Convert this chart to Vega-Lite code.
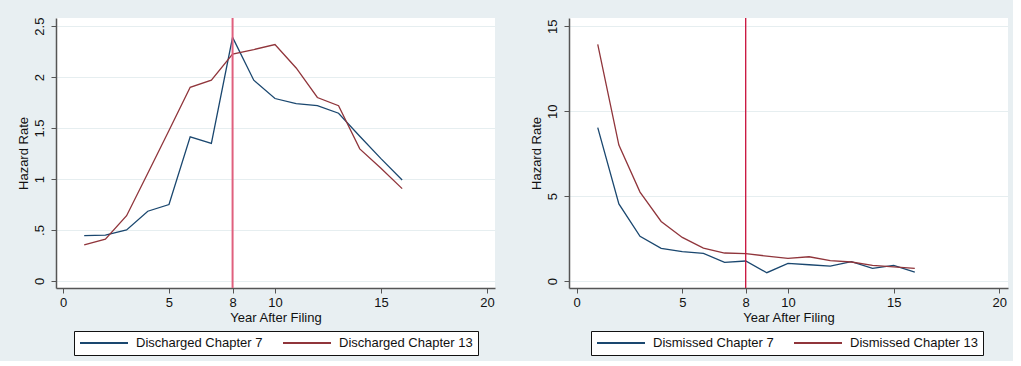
{
  "$schema": "https://vega.github.io/schema/vega-lite/v6.json",
  "background": "#e8eff2",
  "padding": {"left": 16, "top": 17, "right": 5, "bottom": 5},
  "spacing": 35,
  "config": {
    "view": {"fill": "white", "stroke": null},
    "font": "Liberation Sans",
    "axis": {
      "labelFont": "Liberation Sans",
      "titleFont": "Liberation Sans",
      "labelFontSize": 13,
      "titleFontSize": 13,
      "titleFontWeight": "normal",
      "labelColor": "#111",
      "titleColor": "#111",
      "domainColor": "#555",
      "domainWidth": 1.5,
      "tickColor": "#555",
      "tickSize": 5,
      "gridColor": "#e6eef0",
      "gridWidth": 1
    },
    "legend": {
      "labelFont": "Liberation Sans",
      "labelFontSize": 13,
      "labelColor": "#111",
      "strokeColor": "#111",
      "fillColor": "white",
      "padding": 5,
      "symbolType": "M-1,0H7",
      "symbolSize": 144,
      "symbolStrokeWidth": 2,
      "labelOffset": 43,
      "columnPadding": 16,
      "labelLimit": 300
    }
  },
  "datasets": {
    "discharged": [
      {"year": 1, "rate": 0.445, "series": "Discharged Chapter 7"},
      {"year": 2, "rate": 0.45, "series": "Discharged Chapter 7"},
      {"year": 3, "rate": 0.5, "series": "Discharged Chapter 7"},
      {"year": 4, "rate": 0.684, "series": "Discharged Chapter 7"},
      {"year": 5, "rate": 0.75, "series": "Discharged Chapter 7"},
      {"year": 6, "rate": 1.414, "series": "Discharged Chapter 7"},
      {"year": 7, "rate": 1.35, "series": "Discharged Chapter 7"},
      {"year": 8, "rate": 2.39, "series": "Discharged Chapter 7"},
      {"year": 9, "rate": 1.97, "series": "Discharged Chapter 7"},
      {"year": 10, "rate": 1.79, "series": "Discharged Chapter 7"},
      {"year": 11, "rate": 1.74, "series": "Discharged Chapter 7"},
      {"year": 12, "rate": 1.72, "series": "Discharged Chapter 7"},
      {"year": 13, "rate": 1.646, "series": "Discharged Chapter 7"},
      {"year": 14, "rate": 1.42, "series": "Discharged Chapter 7"},
      {"year": 15, "rate": 1.2, "series": "Discharged Chapter 7"},
      {"year": 16, "rate": 0.99, "series": "Discharged Chapter 7"},
      {"year": 1, "rate": 0.353, "series": "Discharged Chapter 13"},
      {"year": 2, "rate": 0.41, "series": "Discharged Chapter 13"},
      {"year": 3, "rate": 0.64, "series": "Discharged Chapter 13"},
      {"year": 4, "rate": 1.057, "series": "Discharged Chapter 13"},
      {"year": 5, "rate": 1.476, "series": "Discharged Chapter 13"},
      {"year": 6, "rate": 1.9, "series": "Discharged Chapter 13"},
      {"year": 7, "rate": 1.97, "series": "Discharged Chapter 13"},
      {"year": 8, "rate": 2.225, "series": "Discharged Chapter 13"},
      {"year": 9, "rate": 2.27, "series": "Discharged Chapter 13"},
      {"year": 10, "rate": 2.32, "series": "Discharged Chapter 13"},
      {"year": 11, "rate": 2.09, "series": "Discharged Chapter 13"},
      {"year": 12, "rate": 1.8, "series": "Discharged Chapter 13"},
      {"year": 13, "rate": 1.72, "series": "Discharged Chapter 13"},
      {"year": 14, "rate": 1.296, "series": "Discharged Chapter 13"},
      {"year": 15, "rate": 1.106, "series": "Discharged Chapter 13"},
      {"year": 16, "rate": 0.906, "series": "Discharged Chapter 13"}
    ],
    "dismissed": [
      {"year": 1, "rate": 9.03, "series": "Dismissed Chapter 7"},
      {"year": 2, "rate": 4.54, "series": "Dismissed Chapter 7"},
      {"year": 3, "rate": 2.63, "series": "Dismissed Chapter 7"},
      {"year": 4, "rate": 1.92, "series": "Dismissed Chapter 7"},
      {"year": 5, "rate": 1.73, "series": "Dismissed Chapter 7"},
      {"year": 6, "rate": 1.63, "series": "Dismissed Chapter 7"},
      {"year": 7, "rate": 1.1, "series": "Dismissed Chapter 7"},
      {"year": 8, "rate": 1.18, "series": "Dismissed Chapter 7"},
      {"year": 9, "rate": 0.49, "series": "Dismissed Chapter 7"},
      {"year": 10, "rate": 1.04, "series": "Dismissed Chapter 7"},
      {"year": 11, "rate": 0.96, "series": "Dismissed Chapter 7"},
      {"year": 12, "rate": 0.88, "series": "Dismissed Chapter 7"},
      {"year": 13, "rate": 1.14, "series": "Dismissed Chapter 7"},
      {"year": 14, "rate": 0.75, "series": "Dismissed Chapter 7"},
      {"year": 15, "rate": 0.92, "series": "Dismissed Chapter 7"},
      {"year": 16, "rate": 0.53, "series": "Dismissed Chapter 7"},
      {"year": 1, "rate": 13.94, "series": "Dismissed Chapter 13"},
      {"year": 2, "rate": 8.01, "series": "Dismissed Chapter 13"},
      {"year": 3, "rate": 5.24, "series": "Dismissed Chapter 13"},
      {"year": 4, "rate": 3.51, "series": "Dismissed Chapter 13"},
      {"year": 5, "rate": 2.57, "series": "Dismissed Chapter 13"},
      {"year": 6, "rate": 1.94, "series": "Dismissed Chapter 13"},
      {"year": 7, "rate": 1.65, "series": "Dismissed Chapter 13"},
      {"year": 8, "rate": 1.61, "series": "Dismissed Chapter 13"},
      {"year": 9, "rate": 1.47, "series": "Dismissed Chapter 13"},
      {"year": 10, "rate": 1.34, "series": "Dismissed Chapter 13"},
      {"year": 11, "rate": 1.43, "series": "Dismissed Chapter 13"},
      {"year": 12, "rate": 1.2, "series": "Dismissed Chapter 13"},
      {"year": 13, "rate": 1.12, "series": "Dismissed Chapter 13"},
      {"year": 14, "rate": 0.92, "series": "Dismissed Chapter 13"},
      {"year": 15, "rate": 0.84, "series": "Dismissed Chapter 13"},
      {"year": 16, "rate": 0.75, "series": "Dismissed Chapter 13"}
    ],
    "marker": [{"year": 8}]
  },
  "resolve": {"scale": {"color": "independent", "x": "independent", "y": "independent"}},
  "hconcat": [
    {
      "width": 439,
      "height": 270,
      "layer": [
        {
          "data": {"name": "discharged"},
          "mark": {"type": "line", "strokeWidth": 1.3},
          "encoding": {
            "x": {"field": "year", "type": "quantitative",
              "scale": {"domain": [-0.33, 20.38], "nice": false, "zero": false},
              "axis": {"values": [0, 5, 8, 10, 15, 20], "title": "Year After Filing", "grid": false, "labelPadding": 3, "titlePadding": 2, "labelFlush": false}},
            "y": {"field": "rate", "type": "quantitative",
              "scale": {"domain": [-0.069, 2.58], "nice": false, "zero": false},
              "axis": {"values": [0, 0.5, 1, 1.5, 2, 2.5], "title": "Hazard Rate", "grid": true, "labelAngle": -90, "labelPadding": 5, "titlePadding": 3,
                "labelExpr": "datum.value == 0.5 ? '.5' : '' + datum.value"}},
            "color": {"field": "series", "type": "nominal",
              "scale": {"domain": ["Discharged Chapter 7", "Discharged Chapter 13"], "range": ["#1a476f", "#90353b"]},
              "legend": {"title": null, "orient": "none", "legendX": 18, "legendY": 313, "direction": "horizontal", "columns": 2}}
          }
        },
        {
          "data": {"name": "marker"},
          "mark": {"type": "rule", "color": "#e0607e", "strokeWidth": 2},
          "encoding": {"x": {"field": "year", "type": "quantitative"}}
        }
      ]
    },
    {
      "width": 439,
      "height": 270,
      "layer": [
        {
          "data": {"name": "dismissed"},
          "mark": {"type": "line", "strokeWidth": 1.3},
          "encoding": {
            "x": {"field": "year", "type": "quantitative",
              "scale": {"domain": [-0.36, 20.41], "nice": false, "zero": false},
              "axis": {"values": [0, 5, 8, 10, 15, 20], "title": "Year After Filing", "grid": false, "labelPadding": 3, "titlePadding": 2, "labelFlush": false}},
            "y": {"field": "rate", "type": "quantitative",
              "scale": {"domain": [-0.41, 15.49], "nice": false, "zero": false},
              "axis": {"values": [0, 5, 10, 15], "title": "Hazard Rate", "grid": true, "labelAngle": -90, "labelPadding": 5, "titlePadding": 3}},
            "color": {"field": "series", "type": "nominal",
              "scale": {"domain": ["Dismissed Chapter 7", "Dismissed Chapter 13"], "range": ["#1a476f", "#90353b"]},
              "legend": {"title": null, "orient": "none", "legendX": 22, "legendY": 313, "direction": "horizontal", "columns": 2}}
          }
        },
        {
          "data": {"name": "marker"},
          "mark": {"type": "rule", "color": "#c8103a", "strokeWidth": 1.3},
          "encoding": {"x": {"field": "year", "type": "quantitative"}}
        }
      ]
    }
  ]
}
